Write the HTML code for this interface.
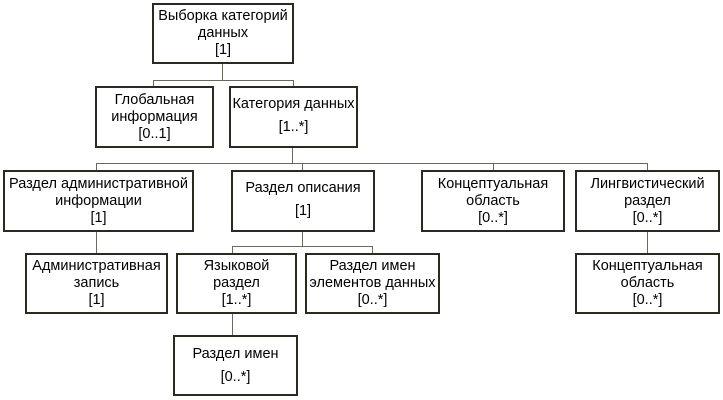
<!DOCTYPE html>
<html><head><meta charset="utf-8"><style>
body{margin:0;width:723px;height:400px;background:#fff;position:relative;overflow:hidden;font-family:"Liberation Sans",Arial,sans-serif;}
.b{position:absolute;box-sizing:border-box;border:2px solid #2a2a20;background:#fff;font-size:14.5px;line-height:17px;color:#000;text-align:center;display:flex;flex-direction:column;justify-content:center;letter-spacing:0;white-space:nowrap;}
.l{position:absolute;background:#6a6a5a;}
</style></head><body>
<div class="l" style="left:222px;top:62px;width:1px;height:19px"></div>
<div class="l" style="left:153px;top:80px;width:141px;height:1px"></div>
<div class="l" style="left:153px;top:80px;width:1px;height:6px"></div>
<div class="l" style="left:293px;top:80px;width:1px;height:6px"></div>
<div class="l" style="left:292px;top:146px;width:1px;height:18px"></div>
<div class="l" style="left:96px;top:163px;width:552px;height:1px"></div>
<div class="l" style="left:96px;top:163px;width:1px;height:8px"></div>
<div class="l" style="left:302px;top:163px;width:1px;height:8px"></div>
<div class="l" style="left:493px;top:163px;width:1px;height:8px"></div>
<div class="l" style="left:647px;top:163px;width:1px;height:8px"></div>
<div class="l" style="left:96px;top:231px;width:1px;height:22px"></div>
<div class="l" style="left:302px;top:231px;width:1px;height:16px"></div>
<div class="l" style="left:232px;top:246px;width:141px;height:1px"></div>
<div class="l" style="left:232px;top:246px;width:1px;height:7px"></div>
<div class="l" style="left:372px;top:246px;width:1px;height:7px"></div>
<div class="l" style="left:647px;top:231px;width:1px;height:22px"></div>
<div class="l" style="left:232px;top:313px;width:1px;height:22px"></div>
<div class="b" style="left:152px;top:3px;width:142px;height:61px">Выборка категорий<br>данных<br>[1]</div>
<div class="b" style="left:95px;top:86px;width:119px;height:62px">Глобальная<br>информация<br>[0..1]</div>
<div class="b" style="left:229px;top:86px;width:129px;height:62px;justify-content:flex-start;padding-top:8px">Категория данных<br><span style="margin-top:6px">[1..*]</span></div>
<div class="b" style="left:3px;top:170px;width:191px;height:62px">Раздел административной<br>информации<br>[1]</div>
<div class="b" style="left:231px;top:170px;width:144px;height:62px;justify-content:flex-start;padding-top:8px">Раздел описания<br><span style="margin-top:6px">[1]</span></div>
<div class="b" style="left:421px;top:170px;width:144px;height:62px">Концептуальная<br>область<br>[0..*]</div>
<div class="b" style="left:575px;top:170px;width:145px;height:62px">Лингвистический<br>раздел<br>[0..*]</div>
<div class="b" style="left:25px;top:253px;width:143px;height:61px">Административная<br>запись<br>[1]</div>
<div class="b" style="left:176px;top:253px;width:121px;height:61px">Языковой<br>раздел<br>[1..*]</div>
<div class="b" style="left:305px;top:253px;width:135px;height:61px">Раздел имен<br>элементов данных<br>[0..*]</div>
<div class="b" style="left:575px;top:253px;width:145px;height:61px">Концептуальная<br>область<br>[0..*]</div>
<div class="b" style="left:173px;top:335px;width:125px;height:61px">Раздел имен<br><span style="margin-top:6px">[0..*]</span></div>
</body></html>
